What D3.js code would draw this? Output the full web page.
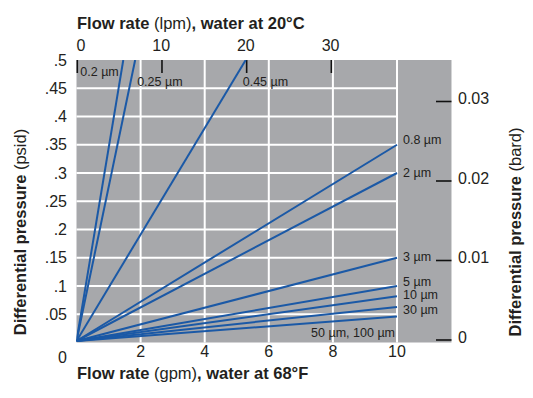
<!DOCTYPE html>
<html>
<head>
<meta charset="utf-8">
<script src="https://cdn.jsdelivr.net/npm/d3@7/dist/d3.min.js"></script>
<style>
  body { margin: 0; background: #fff; }
  svg { display: block; font-family: "Liberation Sans", Arial, sans-serif; }
</style>
</head>
<body>
<div class="chart-container"></div>
<script>
// ---- data ----
const psiTicks = [0.05, 0.1, 0.15, 0.2, 0.25, 0.3, 0.35, 0.4, 0.45, 0.5];
const psiTickLabels = ['.05', '.1', '.15', '.2', '.25', '.3', '.35', '.4', '.45', '.5'];
const gpmTicks = [2, 4, 6, 8, 10];
const lpmTicks = [0, 10, 20, 30];
const barTicks = [0, 0.01, 0.02, 0.03];
const barTickLabels = ['0', '0.01', '0.02', '0.03'];

const filterNames = ['0.2 µm', '0.25 µm', '0.45 µm', '0.8 µm', '2 µm', '3 µm', '5 µm', '10 µm', '30 µm', '50 µm, 100 µm'];
// end point of each line (flow in gpm, differential pressure in psid), lines start at 0,0
const endFlow = [1.46, 1.83, 5.28, 10, 10, 10, 10, 10, 10, 10];
const endPressure = [0.5, 0.5, 0.5, 0.35, 0.30, 0.15, 0.10, 0.082, 0.063, 0.046];

const LPM_PER_GPM = 3.785;

// ---- layout ----
const width = 533, height = 398;
const gray = '#a7a8ab';
const lineColor = '#1b59a6';
const textColor = '#231f20';
const tickFont = '16px';
const titleFont = '16.5px';

// label placement relative to line end [dx, dy, anchor]
const labelOffsets = [
    [-43, 12, 'start'], [2, 22, 'start'], [-3, 22, 'start'],
    [6, -5, 'start'], [6, 0, 'start'], [6, -1, 'start'],
    [6, -4.5, 'start'], [6, -1.5, 'start'], [6, 2.5, 'start'], [-2, 16, 'end']
];

const svg = d3.select('.chart-container')
    .append('svg')
    .attr('width', width)
    .attr('height', height);

const x = d3.scaleLinear().domain([0, 10]).range([76.5, 397]);
const xTop = d3.scaleLinear().domain([0, 10 * LPM_PER_GPM]).range(x.range());
const y = d3.scaleLinear().domain([0, 0.5]).range([342.5, 60]);
const yBar = d3.scaleLinear().domain([0, 0.03]).range([340, 101.5]);

const plotLeft = x(0), plotRight = x(11.7), plotTop = y(0.5), plotBottom = y(0);

// background
svg.append('rect')
    .attr('x', plotLeft)
    .attr('y', plotTop)
    .attr('width', plotRight - plotLeft)
    .attr('height', plotBottom - plotTop)
    .style('fill', gray);

// grid
svg.append('g').selectAll('line')
    .data(psiTicks.filter(d => d < 0.5))
    .enter().append('line')
    .attr('x1', plotLeft).attr('x2', x(10))
    .attr('y1', d => y(d)).attr('y2', d => y(d))
    .style('stroke', '#fff').style('stroke-width', 2);

svg.append('g').selectAll('line')
    .data(gpmTicks)
    .enter().append('line')
    .attr('x1', d => x(d)).attr('x2', d => x(d))
    .attr('y1', plotTop).attr('y2', plotBottom)
    .style('stroke', '#fff').style('stroke-width', 2);

// top lpm ticks
svg.append('g').selectAll('line')
    .data(lpmTicks)
    .enter().append('line')
    .attr('x1', d => xTop(d) + 0.8).attr('x2', d => xTop(d) + 0.8)
    .attr('y1', plotTop).attr('y2', plotTop + 13)
    .style('stroke', '#111').style('stroke-width', 1.6);

// right bar ticks
svg.append('g').selectAll('line')
    .data(barTicks)
    .enter().append('line')
    .attr('x1', 436).attr('x2', plotRight)
    .attr('y1', d => yBar(d)).attr('y2', d => yBar(d))
    .style('stroke', '#111').style('stroke-width', 1.6);

// filter lines
svg.append('clipPath').attr('id', 'plot-clip')
    .append('rect')
    .attr('x', plotLeft).attr('y', plotTop)
    .attr('width', plotRight - plotLeft).attr('height', plotBottom - plotTop);

const lineGenerator = d3.line();
const lines = filterNames.map((name, i) => ({
    name: name,
    points: [[x(0), y(0) - 1.5], [x(endFlow[i]), y(endPressure[i])]],
    offset: labelOffsets[i]
}));

svg.append('g')
    .attr('clip-path', 'url(#plot-clip)')
    .selectAll('path')
    .data(lines)
    .enter().append('path')
    .attr('d', d => lineGenerator(d.points))
    .style('fill', 'none')
    .style('stroke', lineColor)
    .style('stroke-width', 2);

svg.append('g').selectAll('text')
    .data(lines)
    .enter().append('text')
    .attr('x', d => d.points[1][0] + d.offset[0])
    .attr('y', d => d.points[1][1] + d.offset[1])
    .attr('dy', '0.35em')
    .attr('text-anchor', d => d.offset[2])
    .style('font-size', '12.5px')
    .style('fill', textColor)
    .text(d => d.name);

// left axis labels
svg.append('g').selectAll('text')
    .data(psiTicks)
    .enter().append('text')
    .attr('x', 67)
    .attr('y', d => y(d))
    .attr('dy', '0.35em')
    .attr('text-anchor', 'end')
    .style('font-size', tickFont)
    .style('fill', textColor)
    .text((d, i) => psiTickLabels[i]);

svg.append('text')
    .attr('x', 67).attr('y', 363)
    .attr('text-anchor', 'end')
    .style('font-size', tickFont)
    .style('fill', textColor)
    .text('0');

// bottom axis labels
svg.append('g').selectAll('text')
    .data(gpmTicks)
    .enter().append('text')
    .attr('x', d => x(d))
    .attr('y', 357)
    .attr('text-anchor', 'middle')
    .style('font-size', tickFont)
    .style('fill', textColor)
    .text(d => d);

// top axis labels
svg.append('g').selectAll('text')
    .data(lpmTicks)
    .enter().append('text')
    .attr('x', d => xTop(d))
    .attr('y', 50.5)
    .attr('text-anchor', d => d === 0 ? 'start' : 'middle')
    .style('font-size', tickFont)
    .style('fill', textColor)
    .text(d => d);

// right axis labels
svg.append('g').selectAll('text')
    .data(barTicks)
    .enter().append('text')
    .attr('x', 458)
    .attr('y', d => yBar(d) + 2.5)
    .style('font-size', tickFont)
    .style('fill', textColor)
    .text((d, i) => barTickLabels[i]);

// titles
function title(sel, parts) {
    parts.forEach(p => {
        sel.append('tspan')
            .style('font-weight', p[1] ? 'bold' : 'normal')
            .text(p[0]);
    });
}

svg.append('text')
    .attr('x', 77).attr('y', 28.5)
    .style('font-size', titleFont).style('fill', textColor)
    .call(title, [['Flow rate ', true], ['(lpm)', false], [', water at 20°C', true]]);

svg.append('text')
    .attr('x', 77).attr('y', 379)
    .style('font-size', titleFont).style('fill', textColor)
    .call(title, [['Flow rate ', true], ['(gpm)', false], [', water at 68°F', true]]);

svg.append('text')
    .attr('transform', 'translate(26,232) rotate(-90)')
    .attr('text-anchor', 'middle')
    .style('font-size', titleFont).style('fill', textColor)
    .call(title, [['Differential pressure ', true], ['(psid)', false]]);

svg.append('text')
    .attr('transform', 'translate(521,232) rotate(-90)')
    .attr('text-anchor', 'middle')
    .style('font-size', titleFont).style('fill', textColor)
    .call(title, [['Differential pressure ', true], ['(bard)', false]]);
</script>
</body>
</html>
